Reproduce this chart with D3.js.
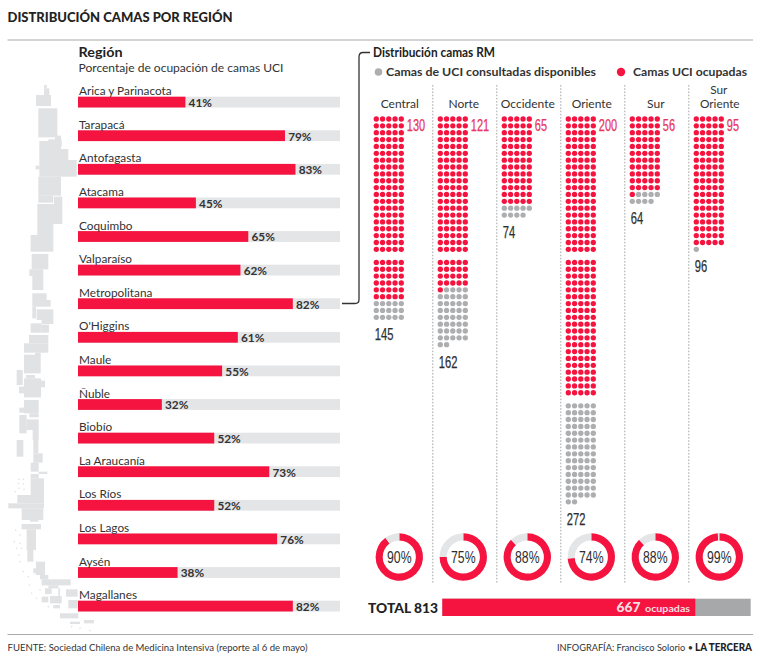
<!DOCTYPE html>
<html><head><meta charset="utf-8">
<style>html,body{margin:0;padding:0;background:#fff}svg{display:block}text{font-family:Lato,"Open Sans",sans-serif;fill:#333}</style>
<script src="https://cdn.jsdelivr.net/npm/d3@7"></script></head><body>
<script>
const regions=["Arica y Parinacota","Tarapacá","Antofagasta","Atacama","Coquimbo","Valparaíso","Metropolitana","O'Higgins","Maule","Ñuble","Biobío","La Araucanía","Los Ríos","Los Lagos","Aysén","Magallanes"];
const occupancy=[41,79,83,45,65,62,82,61,55,32,52,73,52,76,38,82];
const zones=["Central","Norte","Occidente","Oriente","Sur","Sur Oriente"];
const occupied=[130,121,65,200,56,95];
const totals=[145,162,74,272,64,96];
const zonePct=[90,75,88,74,88,99];
const totalBeds=813, totalOccupied=667;
// decorative map silhouette: [x0,y0,x1,y1] measured at 3x, relative to each band's top edge
const mapA=[[132,15,140,25],[132,25,148,45],[108,45,153,78],[115,85,172,172],[118,183,183,290],[145,178,185,200],[165,167,183,180],[183,207,205,240],[183,240,230,290],[115,290,183,347],[115,347,160,368],[107,257,118,268],[162,350,187,372],[112,372,187,432],[112,432,160,465],[92,465,160,515],[95,522,145,540]];
const mapB=[[95,0,145,28],[88,28,130,48],[97,48,130,90],[97,100,140,120],[97,120,152,140],[97,140,108,175],[110,148,160,180],[125,180,160,192],[92,190,125,218],[125,194,147,218],[87,225,145,250],[72,250,145,278],[105,278,122,288],[72,284,122,340],[50,330,68,375],[78,345,105,355],[72,355,123,412],[123,362,135,382],[57,380,72,400],[72,420,116,460],[58,443,72,458],[88,460,116,472],[58,465,80,520],[80,478,116,510],[98,510,116,540]];
const mapC=[[50,0,70,50],[100,0,115,40],[100,40,128,68],[92,68,116,95],[116,95,142,102],[92,102,116,115],[92,115,132,165],[52,165,132,190],[25,190,132,205],[65,205,130,240],[90,240,115,245],[65,252,123,268],[80,268,108,330],[82,330,100,365],[108,365,135,405],[100,385,108,400],[120,405,145,418],[125,418,212,436],[145,436,175,445],[135,445,155,462],[125,470,145,487],[175,445,180,490],[198,448,233,470],[205,480,233,505],[150,468,185,490],[160,495,180,505],[180,520,235,535],[210,545,240,552],[252,540,282,550]];
const mapIslands=[[57,118],[70,118],[55,130],[70,132],[57,145],[72,148],[45,155],[47,270],[60,285],[43,305],[60,310],[50,325],[65,325],[57,345],[60,365],[70,395],[85,410],[88,435],[95,460],[110,475],[120,450],[145,500],[165,500],[215,560],[240,565],[270,572]];

const W=768,H=660,RED="#f5143f",TRACK="#e4e5e7",GREY="#adaeb0",MAP="#e1e2e4",DARK="#2e2e2e";
const svg=d3.select("body").append("svg").attr("width",W).attr("height",H);
const txt=(x,y,s,size,weight,opts={})=>{const t=svg.append("text").attr("x",x).attr("y",y).text(s).attr("font-size",size).attr("font-weight",weight||400);
 if(opts.anchor)t.attr("text-anchor",opts.anchor);if(opts.fill)t.style("fill",opts.fill);if(opts.len)t.attr("textLength",opts.len).attr("lengthAdjust","spacingAndGlyphs");if(opts.family)t.style("font-family",opts.family);if(opts.stroke)t.style("stroke",opts.fill||DARK).style("stroke-width",opts.stroke);return t;};
const NARROW='"Liberation Sans Narrow","Liberation Sans",sans-serif';

// rules
[40,634.5].forEach(y=>svg.append("line").attr("x1",7.5).attr("x2",753).attr("y1",y).attr("y2",y).attr("stroke","#a9aaac").attr("stroke-width",1.2));
txt(7.5,21.5,"DISTRIBUCIÓN CAMAS POR REGIÓN",14,900,{len:225,fill:"#222"});

// map
const mapG=svg.append("g").attr("fill",MAP);
[[mapA,80],[mapB,260],[mapC,440]].forEach(([rs,top])=>rs.forEach(r=>mapG.append("rect").attr("x",r[0]/3).attr("y",top+r[1]/3).attr("width",(r[2]-r[0])/3).attr("height",(r[3]-r[1])/3)));
mapIslands.forEach(p=>mapG.append("circle").attr("cx",p[0]/3).attr("cy",440+p[1]/3).attr("r",0.8));

// region bars
txt(78.5,57,"Región",13,700,{fill:"#222",len:44});
txt(78.5,72,"Porcentaje de ocupación de camas UCI",12,400,{len:205});
const xBar=d3.scaleLinear().domain([0,100]).range([78,340]);
const yBar=d3.scalePoint().domain(regions).range([96.7,600.7]);
const BH=10.8;
const rows=svg.append("g").selectAll("g").data(regions).join("g");
rows.append("rect").attr("x",xBar(0)).attr("y",d=>yBar(d)).attr("width",xBar(100)-xBar(0)).attr("height",BH).attr("fill",TRACK);
rows.append("rect").attr("x",xBar(0)).attr("y",d=>yBar(d)).attr("width",(d,i)=>xBar(occupancy[i])-xBar(0)).attr("height",BH).attr("fill",RED);
rows.append("text").attr("x",79).attr("y",d=>yBar(d)-1.6).attr("font-size",11.8).text(d=>d);
rows.append("text").attr("x",(d,i)=>xBar(occupancy[i])+3.2).attr("y",d=>yBar(d)+10.2).attr("font-size",11.8).attr("font-weight",700).text((d,i)=>occupancy[i]+"%");

// bracket
svg.append("path").attr("d","M342 303.5H355Q359 303.5 359 299.5V57Q359 52.5 363 52.5H370").attr("fill","none").attr("stroke","#333").attr("stroke-width",1.3);
txt(373,57,"Distribución camas RM",13,700,{fill:"#222",len:122});
svg.append("circle").attr("cx",378.5).attr("cy",72).attr("r",3.8).attr("fill",GREY);
txt(386,76,"Camas de UCI consultadas disponibles",11.5,700,{len:210,fill:"#333"});
svg.append("circle").attr("cx",621).attr("cy",72).attr("r",4.2).attr("fill",RED);
txt(633,76,"Camas UCI ocupadas",11.5,700,{len:114,fill:"#333"});

// dot columns
const xZone=d3.scalePoint().domain(zones).range([376.3,696.3]);
const PER=5, DX=6.25, DY=6.86, BLOCK_GAP=6.2, BLOCK=100;
const dotY=i=>119+Math.floor(i/PER)*DY+Math.floor(i/BLOCK)*BLOCK_GAP;
zones.forEach((z,k)=>{
  const x0=xZone(z), g=svg.append("g");
  g.selectAll("circle").data(d3.range(totals[k])).join("circle")
   .attr("cx",i=>x0+(i%PER)*DX).attr("cy",dotY).attr("r",2.65)
   .attr("fill",i=>i<occupied[k]?RED:GREY);
  const cx=x0+23.5;
  if(z==="Sur Oriente"){txt(cx-1,93.8,"Sur",11.8,400,{anchor:"middle"});txt(cx,108.3,"Oriente",11.8,400,{anchor:"middle"});}
  else txt(cx,108,z,12,400,{anchor:"middle"});
  const oc=String(occupied[k]);
  txt(x0+30.5,130.5,oc,16,400,{fill:"#e8355a",family:NARROW,len:oc.length*6.1,stroke:0.25});
  const t=String(totals[k]);
  txt(x0-1.5,dotY(totals[k]-1)+22.8,t,16,400,{family:NARROW,len:t.length*6.2,fill:DARK,stroke:0.25});
  // donut
  const arc=d3.arc().innerRadius(16.6).outerRadius(23.7);
  const pie=d3.pie().sort(null)([zonePct[k],100-zonePct[k]]);
  const dg=svg.append("g").attr("transform",`translate(${x0+23},557)`);
  dg.selectAll("path").data(pie).join("path").attr("d",arc).attr("fill",(d,i)=>i?TRACK:RED);
  dg.append("text").attr("text-anchor","middle").attr("y",6.2).attr("font-size",17).style("font-family",NARROW).attr("textLength",24.5).attr("lengthAdjust","spacingAndGlyphs").style("fill",DARK).text(zonePct[k]+"%");
  if(k>0)svg.append("line").attr("x1",x0-7.5).attr("x2",x0-7.5).attr("y1",85).attr("y2",583).attr("stroke","#8f9092").attr("stroke-width",0.8).attr("stroke-dasharray","1.6 1.6");
});

// total bar
txt(368,613,"TOTAL 813",13,900,{fill:"#222",len:70});
const xTot=d3.scaleLinear().domain([0,totalBeds]).range([442.3,750.7]);
svg.append("rect").attr("x",xTot(0)).attr("y",598.7).attr("width",xTot(totalBeds)-xTot(0)).attr("height",17.3).attr("fill","#a7a8aa");
svg.append("rect").attr("x",xTot(0)).attr("y",598.7).attr("width",xTot(totalOccupied)-xTot(0)).attr("height",17.3).attr("fill",RED);
txt(616.5,612,String(totalOccupied),13,900,{fill:"#f6dfe3",len:24});
txt(645,611.5,"ocupadas",10,700,{fill:"#f6dfe3",len:45});

// footer
txt(7.5,651,"FUENTE: Sociedad Chilena de Medicina Intensiva (reporte al 6 de mayo)",10.3,400,{len:300});
txt(557,651,"INFOGRAFÍA: Francisco Solorio •",9.6,400,{len:136});
txt(695,651,"LA TERCERA",10.3,900,{len:57,fill:"#222"});
</script></body></html>
